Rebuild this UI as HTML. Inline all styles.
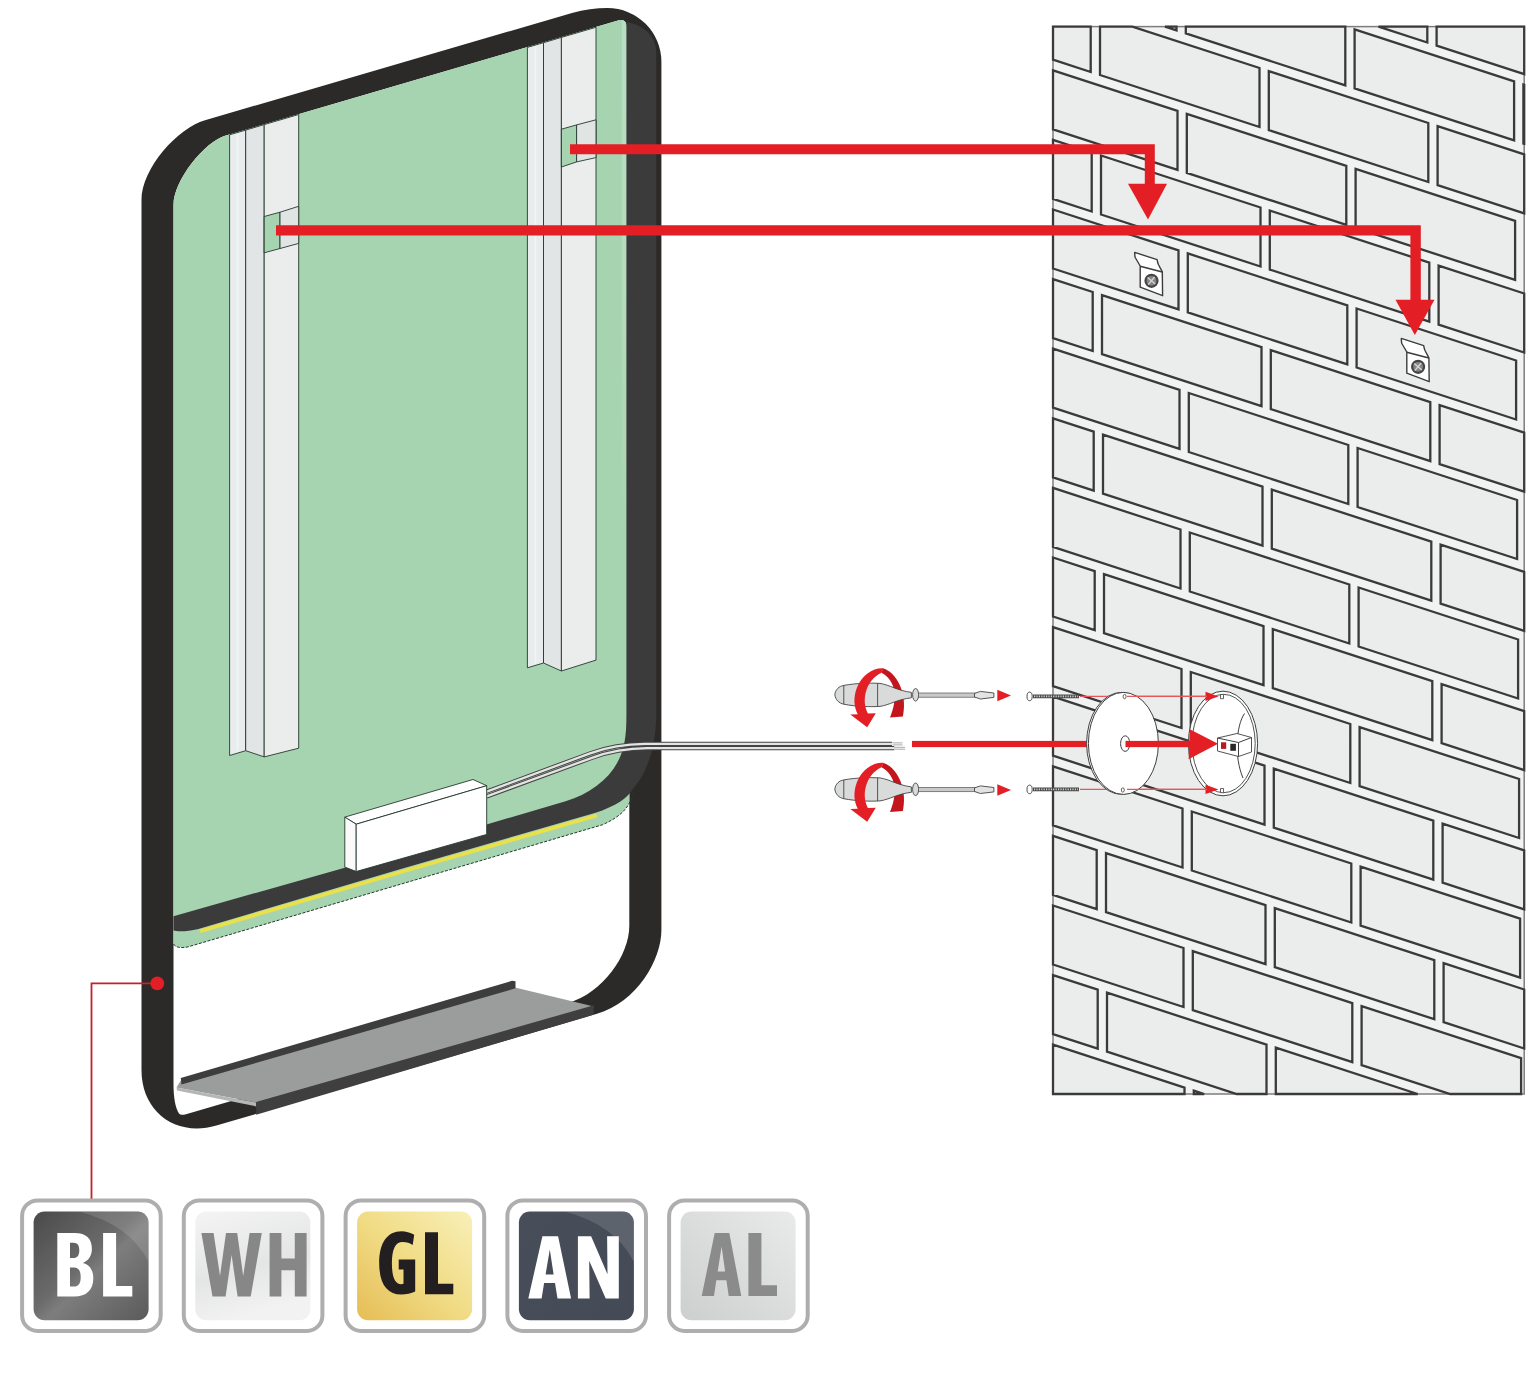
<!DOCTYPE html>
<html><head><meta charset="utf-8"><title>Mirror installation</title>
<style>html,body{margin:0;padding:0;background:#fff;}body{width:1540px;height:1377px;overflow:hidden;font-family:"Liberation Sans",sans-serif;}svg{display:block;}</style>
</head><body>
<svg width="1540" height="1377" viewBox="0 0 1540 1377">
<g id="wall">
<rect x="1053" y="26.6" width="471.2" height="1067.4" fill="#f1f2f2"/>
<rect x="1053" y="26.6" width="471.2" height="1067.4" fill="none" stroke="#7d7d7d" stroke-width="1.5"/>
<path d="M1427.3 26.6 L1427.3 42.5 L1378.5 26.6ZM1436.6 26.6 L1524.2 26.6 L1524.2 74.1 L1436.6 45.6ZM1176.5 30.4 L1165 26.6 L1176.5 26.6ZM1185.8 26.6 L1345.3 26.6 L1345.3 85.4 L1185.8 33.4ZM1354.6 29.4 L1514.1 81.4 L1514.1 140.4 L1354.6 88.4ZM1523.4 84.5 L1524.2 84.7 L1524.2 143.7 L1523.4 143.5ZM1090.7 72 L1053 59.7 L1053 26.6 L1090.7 26.6ZM1100 26.6 L1132.4 26.6 L1259.5 68 L1259.5 127 L1100 75ZM1268.8 71.1 L1428.3 123 L1428.3 182 L1268.8 130.1ZM1437.6 126.1 L1524.2 154.3 L1524.2 213.3 L1437.6 185.1ZM1053 129.3 L1053 70.3 L1177.5 110.9 L1177.5 169.9ZM1186.8 113.9 L1346.3 165.9 L1346.3 224.9 L1186.8 172.9ZM1355.6 168.9 L1515.1 220.9 L1515.1 279.9 L1355.6 227.9ZM1053 198.9 L1053 139.9 L1091.7 152.5 L1091.7 211.5ZM1101 155.5 L1260.5 207.5 L1260.5 266.5 L1101 214.5ZM1269.8 210.6 L1429.3 262.6 L1429.3 321.6 L1269.8 269.6ZM1438.6 265.6 L1524.2 293.5 L1524.2 352.5 L1438.6 324.6ZM1053 268.5 L1053 209.5 L1178.5 250.4 L1178.5 309.4ZM1187.8 253.4 L1347.3 305.4 L1347.3 364.4 L1187.8 312.4ZM1356.6 308.5 L1516.1 360.5 L1516.1 419.5 L1356.6 367.5ZM1053 338.1 L1053 279.1 L1092.7 292 L1092.7 351ZM1102 295.1 L1261.5 347.1 L1261.5 406.1 L1102 354.1ZM1270.8 350.1 L1430.3 402.1 L1430.3 461.1 L1270.8 409.1ZM1439.6 405.1 L1524.2 432.7 L1524.2 491.7 L1439.6 464.1ZM1053 407.7 L1053 348.7 L1179.5 389.9 L1179.5 448.9ZM1188.8 393 L1348.3 445 L1348.3 504 L1188.8 452ZM1357.6 448 L1517.1 500 L1517.1 559 L1357.6 507ZM1053 477.3 L1053 418.3 L1093.7 431.6 L1093.7 490.6ZM1103 434.6 L1262.5 486.6 L1262.5 545.6 L1103 493.6ZM1271.8 489.6 L1431.3 541.6 L1431.3 600.6 L1271.8 548.6ZM1440.6 544.7 L1524.2 571.9 L1524.2 630.9 L1440.6 603.7ZM1053 546.9 L1053 487.9 L1180.5 529.5 L1180.5 588.5ZM1189.8 532.5 L1349.3 584.5 L1349.3 643.5 L1189.8 591.5ZM1358.6 587.5 L1518.1 639.5 L1518.1 698.5 L1358.6 646.5ZM1053 616.5 L1053 557.5 L1094.7 571.1 L1094.7 630.1ZM1104 574.1 L1263.5 626.1 L1263.5 685.1 L1104 633.1ZM1272.8 629.2 L1432.3 681.2 L1432.3 740.2 L1272.8 688.2ZM1441.6 684.2 L1524.2 711.1 L1524.2 770.1 L1441.6 743.2ZM1053 686.1 L1053 627.1 L1181.5 669 L1181.5 728ZM1190.8 672 L1350.3 724 L1350.3 783 L1190.8 731ZM1359.6 727.1 L1519.1 779 L1519.1 838 L1359.6 786.1ZM1053 755.7 L1053 696.7 L1095.7 710.6 L1095.7 769.6ZM1105 713.7 L1264.5 765.6 L1264.5 824.6 L1105 772.7ZM1273.8 768.7 L1433.3 820.7 L1433.3 879.7 L1273.8 827.7ZM1442.6 823.7 L1524.2 850.3 L1524.2 909.3 L1442.6 882.7ZM1053 825.3 L1053 766.3 L1182.5 808.5 L1182.5 867.5ZM1191.8 811.5 L1351.3 863.5 L1351.3 922.5 L1191.8 870.5ZM1360.6 866.6 L1520.1 918.6 L1520.1 977.6 L1360.6 925.6ZM1053 894.9 L1053 835.9 L1096.7 850.1 L1096.7 909.1ZM1106 853.2 L1265.5 905.2 L1265.5 964.2 L1106 912.2ZM1274.8 908.2 L1434.3 960.2 L1434.3 1019.2 L1274.8 967.2ZM1443.6 963.2 L1524.2 989.5 L1524.2 1048.5 L1443.6 1022.2ZM1053 964.5 L1053 905.5 L1183.5 948 L1183.5 1007ZM1192.8 951.1 L1352.3 1003.1 L1352.3 1062.1 L1192.8 1010.1ZM1361.6 1006.1 L1521.1 1058.1 L1521.1 1094 L1450.2 1094 L1361.6 1065.1ZM1053 1034.1 L1053 975.1 L1097.7 989.7 L1097.7 1048.7ZM1107 992.7 L1266.5 1044.7 L1266.5 1094 L1236.7 1094 L1107 1051.7ZM1275.8 1094 L1275.8 1047.7 L1417.7 1094ZM1053 1094 L1053 1044.7 L1184.5 1087.6 L1184.5 1094ZM1193.8 1094 L1193.8 1090.6 L1204.2 1094Z" fill="#ebecec" stroke="#3a3a39" stroke-width="2.3" stroke-linejoin="miter"/>
</g>
<defs><clipPath id="cpInner"><path d="M173.5,205 C173.5,180 205,141.7 225,135.8 L618,20.5 Q626.5,18.5 626.5,27 L626.5,780 L629.3,790 L629.3,926 C629.3,955 603,992.8 568,1003.1 L186,1114.2 Q180.5,1115.6 179,1113.6 C175.5,1108 173.5,1098 173.5,1084 Z"/></clipPath></defs>
<path id="frameOuter" d="M141.5,200 C141.5,168 178,127.9 205,120.2 L572,13 C584,9.6 596,8 607.5,8 A54,54 0 0 1 661.4,62 L661.4,930 C661.4,960 637,1002.1 597,1013.8 L216.4,1125.5 C176,1137.4 141.5,1112 141.5,1070 Z" fill="#2b2a29"/>
<path id="frameInner" d="M173.5,205 C173.5,180 205,141.7 225,135.8 L618,20.5 Q626.5,18.5 626.5,27 L626.5,780 L629.3,790 L629.3,926 C629.3,955 603,992.8 568,1003.1 L186,1114.2 Q180.5,1115.6 179,1113.6 C175.5,1108 173.5,1098 173.5,1084 Z" fill="#ffffff"/>
<g id="mirror">
<g clip-path="url(#cpInner)">
<path d="M160,0 L640,0 L640,791.6 L632.8,791.6 C631,806 622,816 602.6,824.7 L187.9,946.9 C180,948.5 175,947 173.5,944 L160,944 Z" fill="#a6d4b0"/>
<defs><linearGradient id="gStrip" x1="0" y1="0" x2="0" y2="1"><stop offset="0" stop-color="#b7dfc3" stop-opacity="1"/><stop offset="0.5" stop-color="#b7dfc3" stop-opacity="0.8"/><stop offset="1" stop-color="#b7dfc3" stop-opacity="0"/></linearGradient></defs>
<rect x="621.8" y="18" width="4.7" height="520" fill="url(#gStrip)"/>
</g>
<path d="M173.5,944 C175,947 180,948.5 187.9,946.9 L602.6,824.7 C622,816 631,806 632.8,791.6" fill="none" stroke="#25382d" stroke-width="1" stroke-dasharray="3 1.5"/>
<path d="M200,931.3 L400,872.2 L596.8,815.5" stroke="#e9e04a" stroke-width="3.8" fill="none"/>
<path d="M173.5,916.2 L343,868.2 L485.7,824.7 L565.6,801.3 C596,792 618,772 624,745 C626,735 626.5,725 626.5,715 L626.5,22 C640,24 656.3,34 656.3,52 L656.3,715 C656,745 648,772 633.8,787.7 C628,798 616,806 594.8,813 L400,869.3 L198.4,929 C188,931.6 178,931.8 173.5,930.6 Z" fill="#3b3b3b"/>
</g>
<g id="rails">
<polygon points="229.6,134.8 245.7,130.1 245.7,750.7 229.6,755.5" fill="#e9ecec" stroke="#25382d" stroke-width="0.9" stroke-linejoin="round"/>
<polygon points="245.7,130.1 264.2,124.6 264.2,756.9 245.7,750.7" fill="#e2e5e5" stroke="#25382d" stroke-width="0.9" stroke-linejoin="round"/>
<polygon points="264.2,124.6 298.7,114.5 298.7,748.2 264.2,756.9" fill="#ebeded" stroke="#25382d" stroke-width="0.9" stroke-linejoin="round"/>
<line x1="237.6" y1="134.1" x2="237.6" y2="751.1" stroke="#f3f5f5" stroke-width="1.5"/>
<polygon points="264.2,216.5 280,212.2 280,248.5 264.2,252.8" fill="#a6d4b0" stroke="#25382d" stroke-width="0.9" stroke-linejoin="round"/>
<polygon points="280,212.2 298.7,206.3 298.7,243.4 280,248.5" fill="#e0e4e3" stroke="#25382d" stroke-width="0.9" stroke-linejoin="round"/>
<polygon points="527.4,47.4 543.5,42.7 543.5,663 527.4,667.8" fill="#e9ecec" stroke="#25382d" stroke-width="0.9" stroke-linejoin="round"/>
<polygon points="543.5,42.7 561.4,37.4 561.4,671 543.5,663" fill="#e2e5e5" stroke="#25382d" stroke-width="0.9" stroke-linejoin="round"/>
<polygon points="561.4,37.4 596,27.3 596,660.1 561.4,671" fill="#ebeded" stroke="#25382d" stroke-width="0.9" stroke-linejoin="round"/>
<line x1="535.5" y1="46.7" x2="535.5" y2="663.4" stroke="#f3f5f5" stroke-width="1.5"/>
<polygon points="561.4,129.2 576.6,124.9 576.6,161.9 561.4,167" fill="#a6d4b0" stroke="#25382d" stroke-width="0.9" stroke-linejoin="round"/>
<polygon points="576.6,124.9 596,119.8 596,157.6 576.6,161.9" fill="#e0e4e3" stroke="#25382d" stroke-width="0.9" stroke-linejoin="round"/>
</g>
<g id="driver">
<path d="M486.7,791.6 L590,753.4 C606,747.5 622,744 645,743.9 L892,743.9" fill="none" stroke="#454545" stroke-width="4.3"/>
<path d="M486.7,791.6 L590,753.4 C606,747.5 622,744 645,743.9 L892,743.9" fill="none" stroke="#e4e4e4" stroke-width="2.3"/>
<path d="M486.7,796.4 L592,757.8 C608,752 624,748.4 647,748.2 L894.3,748.2" fill="none" stroke="#454545" stroke-width="4.3"/>
<path d="M486.7,796.4 L592,757.8 C608,752 624,748.4 647,748.2 L894.3,748.2" fill="none" stroke="#e4e4e4" stroke-width="2.3"/>
<path d="M892.5,742.9 L902.5,742.9 M892.5,744.9 L902.5,744.9 M895,747.3 L905,747.3 M895,749.2 L905,749.2" stroke="#a9a9a9" stroke-width="1" fill="none"/>
<polygon points="344.8,817.1 473,779.5 486.7,785.7 356.2,824.2" fill="#ffffff" stroke="#25382d" stroke-width="0.9" stroke-linejoin="round"/>
<polygon points="344.8,817.1 356.2,824.2 356.2,871.5 344.8,867.1" fill="#fafafa" stroke="#25382d" stroke-width="0.9" stroke-linejoin="round"/>
<polygon points="356.2,824.2 486.7,785.7 486.7,834.4 356.2,871.5" fill="#ffffff" stroke="#25382d" stroke-width="0.9" stroke-linejoin="round"/>
</g>
<g id="shelf">
<polygon points="176.5,1087.4 180.8,1080.5 515,987.5 593.8,1006.5 256.2,1102.6" fill="#9b9d9d"/>
<polygon points="176.5,1087.4 256.2,1102.6 256.2,1106.4 177,1090.6" fill="#b5b7b7"/>
<polygon points="180.8,1078 512,980.8 515.5,981.2 515.5,988.3 181.5,1084.5" fill="#3d3d3d"/>
<polygon points="256.2,1102 593.8,1005.2 593.8,1014.6 256.2,1114.8" fill="#3f3f3f"/>
</g>
<g id="arrows" fill="#e31e24" stroke="none">
<path d="M570,144.2 L1154.8,144.2 L1154.8,185 L1144.8,185 L1144.8,154.2 L570,154.2 Z"/>
<polygon points="1128,183.8 1167,183.8 1148,219.5"/>
<path d="M276,225.2 L1420.8,225.2 L1420.8,301 L1410.4,301 L1410.4,235.4 L276,235.4 Z"/>
<polygon points="1395.5,299.8 1434.5,299.8 1414.8,335"/>
</g>
<path d="M91.5,1199 L91.5,983.3 L152,983.3" fill="none" stroke="#c4212b" stroke-width="1.8"/>
<circle cx="157.3" cy="983.4" r="6.9" fill="#e31e24"/>
<defs>
<linearGradient id="gBL" x1="0" y1="0" x2="1" y2="1"><stop offset="0" stop-color="#4a4a4a"/><stop offset="0.45" stop-color="#6b6b6b"/><stop offset="0.55" stop-color="#7d7d7d"/><stop offset="1" stop-color="#5a5a5a"/></linearGradient>
<linearGradient id="gWH" x1="0" y1="0" x2="0.3" y2="1"><stop offset="0" stop-color="#f4f4f4"/><stop offset="0.6" stop-color="#e4e5e5"/><stop offset="1" stop-color="#f2f2f2"/></linearGradient>
<linearGradient id="gGL" x1="1" y1="0" x2="0" y2="1"><stop offset="0" stop-color="#f8f0b8"/><stop offset="0.5" stop-color="#f1dc86"/><stop offset="1" stop-color="#e5bd55"/></linearGradient>
<linearGradient id="gAN" x1="0" y1="0" x2="1" y2="1"><stop offset="0" stop-color="#474d59"/><stop offset="1" stop-color="#454b56"/></linearGradient>
<linearGradient id="gAL" x1="1" y1="0" x2="0" y2="1"><stop offset="0" stop-color="#e9eaea"/><stop offset="1" stop-color="#cdcfcf"/></linearGradient>
</defs>
<rect x="22.1" y="1200.4" width="138.6" height="130.6" rx="15.5" ry="15.5" fill="#ffffff" stroke="#aeaeae" stroke-width="4"/>
<rect x="33.6" y="1211.6" width="115" height="108.6" rx="11" ry="11" fill="url(#gBL)"/>
<path d="M80.1,1211.7 L137.7,1211.7 Q148.7,1211.7 148.7,1222.7 L148.7,1262 Q130.1,1225 80.1,1211.7 Z" fill="#ffffff" opacity="0.13"/>
<path transform="translate(57.3,1232.9)" d="M0,0 H17 C29.5,0 34.6,6 34.6,15.8 C34.6,23 31,27.8 25.5,30 C32.8,32 36,37.5 36,45.6 C36,57 29,63.7 17,63.7 H0 Z M12.7,9.8 H16.2 C20.6,9.8 22,12.6 22,17.4 C22,22.4 20.2,25.2 15.8,25.2 H12.7 Z M12.7,34.6 H16.6 C21.6,34.6 23.4,38.2 23.4,44.4 C23.4,50.4 21.4,53.7 16.4,53.7 H12.7 Z" fill="#ffffff" fill-rule="evenodd"/>
<path transform="translate(103.1,1232.9)" d="M0,0 H13 V53.1 H29.2 V63.7 H0 Z" fill="#ffffff" fill-rule="evenodd"/>
<rect x="183.8" y="1200.4" width="138.6" height="130.6" rx="15.5" ry="15.5" fill="#ffffff" stroke="#aeaeae" stroke-width="4"/>
<rect x="195.3" y="1211.6" width="115" height="108.6" rx="11" ry="11" fill="url(#gWH)"/>
<path transform="translate(201.4,1232.9)" d="M0,0 L12.2,0 L18.6,43 L24.6,0 L35.8,0 L41.8,43 L48.2,0 L60.4,0 L49.3,63.7 L36.2,63.7 L30.2,22 L24.2,63.7 L11.1,63.7Z" fill="#878787" fill-rule="evenodd"/>
<path transform="translate(269.6,1232.9)" d="M0,0 H11.8 V25.7 H25.2 V0 H37 V63.7 H25.2 V37.4 H11.8 V63.7 H0 Z" fill="#878787" fill-rule="evenodd"/>
<rect x="345.6" y="1200.4" width="138.6" height="130.6" rx="15.5" ry="15.5" fill="#ffffff" stroke="#aeaeae" stroke-width="4"/>
<rect x="357.1" y="1211.6" width="115" height="108.6" rx="11" ry="11" fill="url(#gGL)"/>
<path transform="translate(379.2,1231.3)" d="M35,3.5 C31,1.2 26.5,0 22.5,0 C8,0 0,11.5 0,32 C0,52.5 8,63.3 22,63.3 C27,63.3 32,62.2 36,60.3 L36,28.3 L19.5,28.3 L19.5,38.2 L24.3,38.2 L24.3,52.5 C23.6,52.8 22.8,52.9 22,52.9 C15.5,52.9 12.7,45 12.7,32 C12.7,18 16,10.6 23.5,10.6 C27.5,10.6 30.8,11.8 33.5,13.6 Z" fill="#231f20" fill-rule="evenodd"/>
<path transform="translate(425,1232.3)" d="M0,0 H13 V51.4 H28.3 V62 H0 Z" fill="#231f20" fill-rule="evenodd"/>
<rect x="507.4" y="1200.4" width="138.6" height="130.6" rx="15.5" ry="15.5" fill="#ffffff" stroke="#aeaeae" stroke-width="4"/>
<rect x="518.9" y="1211.6" width="115" height="108.6" rx="11" ry="11" fill="url(#gAN)"/>
<path d="M565.4,1211.7 L623,1211.7 Q634,1211.7 634,1222.7 L634,1262 Q615.4,1225 565.4,1211.7 Z" fill="#ffffff" opacity="0.13"/>
<path transform="translate(528.3,1236.2)" d="M0,62.3 L14.1,0 L29.8,0 L42.8,62.3 L29.2,62.3 L26.7,46.9 L15.8,46.9 L13.3,62.3Z M17.3,38.2 L25.3,38.2 L21.5,13.3Z" fill="#ffffff" fill-rule="evenodd"/>
<path transform="translate(577.9,1236.2)" d="M0,0 L13.2,0 L29.6,38 L29.2,0 L40.9,0 L40.9,62.3 L27.8,62.3 L11.3,24.5 L11.7,62.3 L0,62.3Z" fill="#ffffff" fill-rule="evenodd"/>
<rect x="669.1" y="1200.4" width="138.6" height="130.6" rx="15.5" ry="15.5" fill="#ffffff" stroke="#aeaeae" stroke-width="4"/>
<rect x="680.6" y="1211.6" width="115" height="108.6" rx="11" ry="11" fill="url(#gAL)"/>
<path transform="translate(701.7,1232.9)" d="M0,63 L13,0 L27.6,0 L39.6,63 L27,63 L24.7,47.4 L14.6,47.4 L12.3,63Z M16,38.6 L23.4,38.6 L19.9,13.5Z" fill="#8b8b8b" fill-rule="evenodd"/>
<path transform="translate(748.4,1232.9)" d="M0,0 H13 V52.4 H28.6 V63 H0 Z" fill="#8b8b8b" fill-rule="evenodd"/>
<g transform="translate(0,0)">
<path d="M1134.7,252.4 L1157.1,259.6 C1157.5,262 1157.8,263.3 1158.4,264.5 L1162.3,271.8 L1162.6,295.7 L1140.2,287.2 L1140.2,266 L1135.2,257.5 C1134.8,256 1134.7,254 1134.7,252.4 Z" fill="#ffffff" stroke="#3c3c3c" stroke-width="1.4" stroke-linejoin="round"/>
<path d="M1140.2,266.2 L1162.3,272" fill="none" stroke="#3c3c3c" stroke-width="1.4" stroke-linejoin="round"/>
<circle cx="1151.5" cy="280.8" r="6" fill="#858585" stroke="#454545" stroke-width="2.2"/>
<path d="M1147.6,277.6 L1155.2,284 M1154.6,277 L1148.2,284.6" stroke="#d8d8d8" stroke-width="1.3" fill="none"/>
</g>
<g transform="translate(266.6,86)">
<path d="M1134.7,252.4 L1157.1,259.6 C1157.5,262 1157.8,263.3 1158.4,264.5 L1162.3,271.8 L1162.6,295.7 L1140.2,287.2 L1140.2,266 L1135.2,257.5 C1134.8,256 1134.7,254 1134.7,252.4 Z" fill="#ffffff" stroke="#3c3c3c" stroke-width="1.4" stroke-linejoin="round"/>
<path d="M1140.2,266.2 L1162.3,272" fill="none" stroke="#3c3c3c" stroke-width="1.4" stroke-linejoin="round"/>
<circle cx="1151.5" cy="280.8" r="6" fill="#858585" stroke="#454545" stroke-width="2.2"/>
<path d="M1147.6,277.6 L1155.2,284 M1154.6,277 L1148.2,284.6" stroke="#d8d8d8" stroke-width="1.3" fill="none"/>
</g>
<g id="junction">
<ellipse cx="1223" cy="743.5" rx="34.6" ry="52.3" fill="#ffffff" stroke="#3f3f3f" stroke-width="1"/>
<ellipse cx="1223.6" cy="743.5" rx="31.6" ry="49.2" fill="#ffffff" stroke="#3f3f3f" stroke-width="0.9"/>
<path d="M1244.5,713.5 C1236,726 1234,757 1243,778" stroke="#3f3f3f" stroke-width="1" fill="none"/>
<path d="M1220.5,694.5 l3,0 l0,4.2 l-3,0 z M1220.5,788.5 l3,0 l0,4.2 l-3,0 z" fill="#ffffff" stroke="#3f3f3f" stroke-width="0.8"/>
<polygon points="1217.5,738 1237,733.5 1251.5,737.5 1251.5,752 1238.5,756.5 1217.5,751" fill="#ffffff" stroke="#3f3f3f" stroke-width="0.9" stroke-linejoin="round"/>
<path d="M1217.5,738 L1238.5,742.5 L1251.5,737.5 M1238.5,742.5 L1238.5,756.5" stroke="#3f3f3f" stroke-width="1" fill="none"/>
<rect x="1221" y="742.3" width="5.2" height="6.6" fill="#b8191f"/>
<rect x="1230.3" y="743.8" width="5.6" height="7" fill="#2a2a2a"/>
<line x1="1033" y1="696.4" x2="1079" y2="696.4" stroke="#4a4a4a" stroke-width="3.6"/>
<line x1="1034" y1="696.4" x2="1078" y2="696.4" stroke="#cfcfcf" stroke-width="1.6" stroke-dasharray="1.2 1.2"/>
<ellipse cx="1029.6" cy="696.4" rx="2.6" ry="4.3" fill="#ffffff" stroke="#4a4a4a" stroke-width="1"/>
<line x1="1033" y1="789.4" x2="1079" y2="789.4" stroke="#4a4a4a" stroke-width="3.6"/>
<line x1="1034" y1="789.4" x2="1078" y2="789.4" stroke="#cfcfcf" stroke-width="1.6" stroke-dasharray="1.2 1.2"/>
<ellipse cx="1029.6" cy="789.4" rx="2.6" ry="4.3" fill="#ffffff" stroke="#4a4a4a" stroke-width="1"/>
<line x1="1080" y1="696.4" x2="1207" y2="696.4" stroke="#e8555a" stroke-width="1.1"/>
<polygon points="1205.5,691.8 1218.5,696.4 1205.5,701" fill="#e31e24"/>
<line x1="1080" y1="789.4" x2="1207" y2="789.4" stroke="#e8555a" stroke-width="1.1"/>
<polygon points="1205.5,784.8 1218.5,789.4 1205.5,794" fill="#e31e24"/>
<rect x="912" y="740.9" width="280" height="6.2" fill="#e31e24"/>
<ellipse cx="1121.6" cy="743.4" rx="35" ry="51" fill="#ffffff" stroke="#3f3f3f" stroke-width="1"/>
<ellipse cx="1123.4" cy="743.4" rx="35" ry="51" fill="#ffffff" stroke="#3f3f3f" stroke-width="1"/>
<ellipse cx="1125.2" cy="743.6" rx="4.6" ry="7.8" fill="#ffffff" stroke="#3f3f3f" stroke-width="1"/>
<ellipse cx="1124.6" cy="696.6" rx="1.5" ry="2.2" fill="#ffffff" stroke="#3f3f3f" stroke-width="0.8"/>
<ellipse cx="1122.8" cy="790" rx="1.5" ry="2.2" fill="#ffffff" stroke="#3f3f3f" stroke-width="0.8"/>
<rect x="1125.5" y="740.9" width="66" height="6.2" fill="#e31e24"/>
<polygon points="1189.8,729.3 1218,743.8 1188.6,759.3" fill="#e31e24"/>
<line x1="1127" y1="696.4" x2="1207" y2="696.4" stroke="#e8555a" stroke-width="1.1"/>
<line x1="1127" y1="789.4" x2="1207" y2="789.4" stroke="#e8555a" stroke-width="1.1"/>
</g>
<g transform="translate(0,0)">
<path d="M883.4,668.6 C889,670 896,676 900.3,686.2 C905,698 904.5,708 902.9,716.4 L890,717.5 C893.5,709 895.5,700 894.3,691 C893,683 888.5,676.5 881.5,672.8 Z" fill="#c3151b"/>
<path d="M834.8,694.6 C835.5,689.5 839,686.2 843.8,685.4 C856,683.2 870,682.8 880,683.4 C890,685 897,690.5 911.4,692.4 L911.4,697.8 C897,699.5 890,704.8 880,706.4 C870,707 856,706.6 843.8,704.2 C839,703.2 835.5,700 834.8,694.6 Z" fill="#d9dada" stroke="#444444" stroke-width="0.9" stroke-linejoin="round"/>
<path d="M843.8,685.4 L843.8,704.2 M877.6,683.3 L877.6,706.5" fill="none" stroke="#444444" stroke-width="0.9" stroke-linejoin="round"/>
<ellipse cx="915.6" cy="694.8" rx="3" ry="6.3" fill="#d9dada" stroke="#444444" stroke-width="0.9" stroke-linejoin="round"/>
<rect x="918.6" y="693" width="57" height="4.2" fill="#c8c9c9" stroke="#555" stroke-width="0.7"/>
<polygon points="974.5,693.4 980.4,691.4 993.9,693 993.9,697.4 980.4,699 974.5,697" fill="#e3e3e3" stroke="#444444" stroke-width="0.9" stroke-linejoin="round"/>
<polygon points="997.3,689.8 1011,695.5 997.3,701.2" fill="#e31e24"/>
<path d="M883.8,668.3 C873,667.5 862,675 857,687.5 C853,698 854,707 857.8,714.2 L850.3,714.6 L867.2,727.3 L875.8,713.2 L867.9,713.6 C864.5,707 864,700 865.6,693 C868,683.5 873.5,676.5 881.5,672.8 Z" fill="#e31e24"/>
</g>
<g transform="translate(0,94.5)">
<path d="M883.4,668.6 C889,670 896,676 900.3,686.2 C905,698 904.5,708 902.9,716.4 L890,717.5 C893.5,709 895.5,700 894.3,691 C893,683 888.5,676.5 881.5,672.8 Z" fill="#c3151b"/>
<path d="M834.8,694.6 C835.5,689.5 839,686.2 843.8,685.4 C856,683.2 870,682.8 880,683.4 C890,685 897,690.5 911.4,692.4 L911.4,697.8 C897,699.5 890,704.8 880,706.4 C870,707 856,706.6 843.8,704.2 C839,703.2 835.5,700 834.8,694.6 Z" fill="#d9dada" stroke="#444444" stroke-width="0.9" stroke-linejoin="round"/>
<path d="M843.8,685.4 L843.8,704.2 M877.6,683.3 L877.6,706.5" fill="none" stroke="#444444" stroke-width="0.9" stroke-linejoin="round"/>
<ellipse cx="915.6" cy="694.8" rx="3" ry="6.3" fill="#d9dada" stroke="#444444" stroke-width="0.9" stroke-linejoin="round"/>
<rect x="918.6" y="693" width="57" height="4.2" fill="#c8c9c9" stroke="#555" stroke-width="0.7"/>
<polygon points="974.5,693.4 980.4,691.4 993.9,693 993.9,697.4 980.4,699 974.5,697" fill="#e3e3e3" stroke="#444444" stroke-width="0.9" stroke-linejoin="round"/>
<polygon points="997.3,689.8 1011,695.5 997.3,701.2" fill="#e31e24"/>
<path d="M883.8,668.3 C873,667.5 862,675 857,687.5 C853,698 854,707 857.8,714.2 L850.3,714.6 L867.2,727.3 L875.8,713.2 L867.9,713.6 C864.5,707 864,700 865.6,693 C868,683.5 873.5,676.5 881.5,672.8 Z" fill="#e31e24"/>
</g>
</svg>
</body></html>
